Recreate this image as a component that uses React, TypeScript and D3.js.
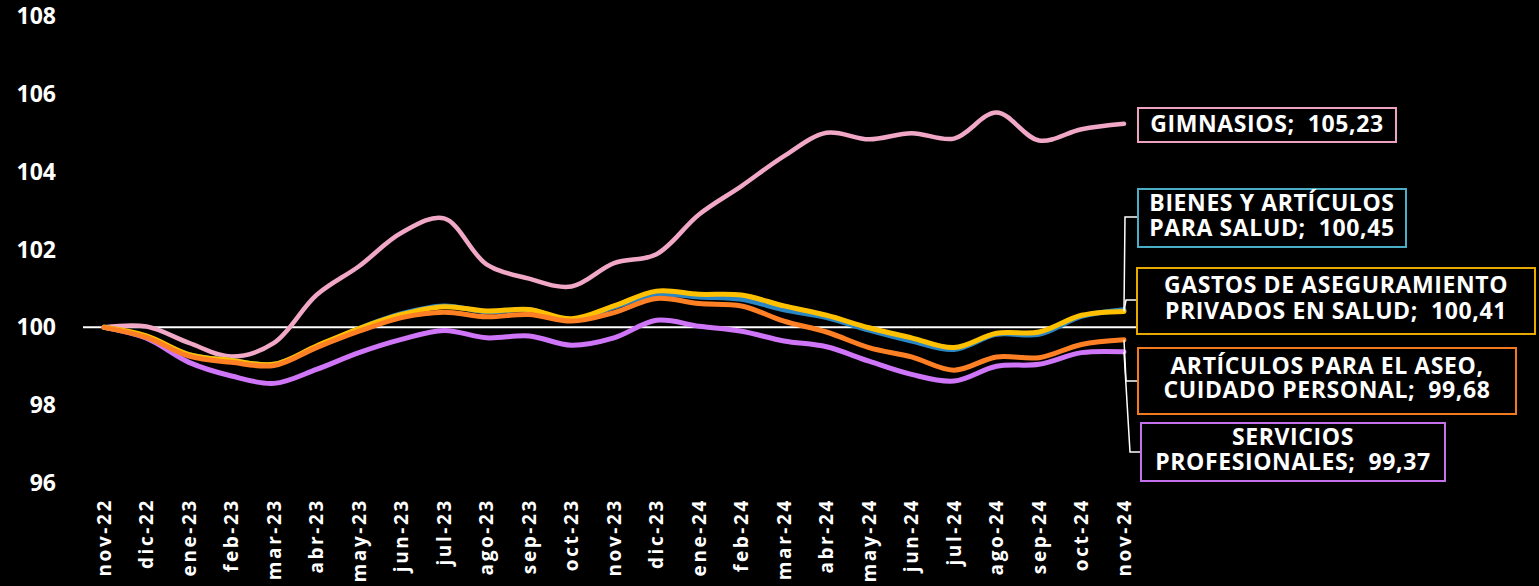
import * as d3 from "d3";

// monthly index values (base nov-22 = 100)
const months = [
  "nov-22", "dic-22", "ene-23", "feb-23", "mar-23", "abr-23", "may-23", "jun-23", "jul-23",
  "ago-23", "sep-23", "oct-23", "nov-23", "dic-23", "ene-24", "feb-24", "mar-24", "abr-24",
  "may-24", "jun-24", "jul-24", "ago-24", "sep-24", "oct-24", "nov-24",
];
const gimnasios = [
  100, 100.02, 99.6, 99.25, 99.6, 100.83, 101.57, 102.43, 102.8, 101.62, 101.25, 101.05,
  101.65, 101.88, 102.9, 103.63, 104.4, 105.0, 104.83, 104.99, 104.85, 105.52, 104.8, 105.09, 105.23,
];
const bienesSalud = [
  100, 99.76, 99.3, 99.15, 99.05, 99.5, 99.97, 100.35, 100.55, 100.4, 100.45, 100.2,
  100.52, 100.85, 100.78, 100.72, 100.45, 100.25, 99.93, 99.65, 99.43, 99.82, 99.82, 100.28, 100.45,
];
const aseguramiento = [
  100, 99.78, 99.3, 99.15, 99.05, 99.52, 99.97, 100.33, 100.53, 100.42, 100.46, 100.22,
  100.55, 100.93, 100.85, 100.83, 100.55, 100.31, 99.99, 99.73, 99.48, 99.85, 99.88, 100.31, 100.41,
];
const aseoPersonal = [
  100, 99.74, 99.26, 99.1, 99.02, 99.48, 99.9, 100.25, 100.39, 100.27, 100.33, 100.16,
  100.38, 100.74, 100.61, 100.55, 100.16, 99.88, 99.48, 99.24, 98.9, 99.24, 99.22, 99.56, 99.68,
];
const serviciosProf = [
  100, 99.72, 99.1, 98.75, 98.56, 98.92, 99.35, 99.69, 99.92, 99.73, 99.78, 99.54,
  99.73, 100.18, 100.03, 99.9, 99.65, 99.5, 99.13, 98.79, 98.62, 99.0, 99.05, 99.35, 99.37,
];
const yTicks = [96, 98, 100, 102, 104, 106, 108];

const W = 1539;
const H = 586;
const FONT = "'Open Sans', sans-serif";

const x = d3.scalePoint<string>().domain(months).range([104, 1124]);
const y = d3.scaleLinear().domain([96, 108]).range([483, 16]);

const line = d3
  .line<number>()
  .x((_, i) => x(months[i]) as number)
  .y((v) => y(v))
  .curve(d3.curveCatmullRom.alpha(0.5));

// draw order matters: later ones sit on top
const series = [
  { key: "gim", values: gimnasios, color: "#F0A8C6", width: 4.5 },
  { key: "serv", values: serviciosProf, color: "#CF75F7", width: 5 },
  { key: "bien", values: bienesSalud, color: "#2B86C4", width: 5 },
  { key: "aseg", values: aseguramiento, color: "#FFC000", width: 5 },
  { key: "aseo", values: aseoPersonal, color: "#FF7F24", width: 5 },
];

// label boxes on the right
const labels = [
  { values: gimnasios, lines: ["GIMNASIOS;  105,23"], border: "#EEA2C2", box: [1138, 108, 258, 34], base: [132], leader: null },
  { values: bienesSalud, lines: ["BIENES Y ARTÍCULOS", "PARA SALUD;  100,45"], border: "#4BACC6", box: [1138, 189, 268, 58], base: [211, 236], leader: [1125, 217] },
  { values: aseguramiento, lines: ["GASTOS DE ASEGURAMIENTO", "PRIVADOS EN SALUD;  100,41"], border: "#E8A900", box: [1137, 268, 398, 66], base: [293, 319], leader: [1126, 300] },
  { values: aseoPersonal, lines: ["ARTÍCULOS PARA EL ASEO,", "CUIDADO PERSONAL;  99,68"], border: "#F47A1E", box: [1138, 348, 378, 66], base: [374, 398], leader: [1126, 381] },
  { values: serviciosProf, lines: ["SERVICIOS", "PROFESIONALES;  99,37"], border: "#C470EA", box: [1141, 423, 304, 58], base: [445, 470], leader: [1130, 452] },
];

const App = () => {
  const last = months[months.length - 1];
  return (
    <svg width={W} height={H} style={{ position: "absolute", left: 0, top: 0, display: "block", background: "#000" }}>
      <rect x={0} y={0} width={W} height={H} fill="#000" />

      {/* y axis labels */}
      {yTicks.map((t) => (
        <text key={t} x={56} y={y(t)} dy="0.35em" textAnchor="end" fill="#fff"
          fontFamily={FONT} fontWeight={700} fontSize={23}>
          {t}
        </text>
      ))}

      {/* x axis labels, rotated */}
      {months.map((m) => (
        <text key={m} transform={`translate(${x(m)},498) rotate(-90)`} textAnchor="end" dy="0.35em"
          fill="#fff" fontFamily={FONT} fontWeight={700} fontSize={19} letterSpacing={2.6}>
          {m}
        </text>
      ))}

      {/* reference line at 100 */}
      <line x1={83} x2={1145} y1={y(100)} y2={y(100)} stroke="#fff" strokeWidth={2} />

      {series.map((s) => (
        <path key={s.key} d={line(s.values) as string} fill="none" stroke={s.color}
          strokeWidth={s.width} strokeLinecap="round" strokeLinejoin="round" />
      ))}

      {labels.map((l, i) => {
        const [bx, by, bw, bh] = l.box;
        const ex = x(last) as number;
        const ey = y(l.values[l.values.length - 1]);
        return (
          <g key={i}>
            {l.leader && (
              <polyline points={`${ex},${ey} ${l.leader[0]},${l.leader[1]} ${bx},${l.leader[1]}`}
                fill="none" stroke="#fff" strokeWidth={1.5} />
            )}
            <rect x={bx} y={by} width={bw} height={bh} fill="#000" stroke={l.border} strokeWidth={2} />
            {l.lines.map((t, j) => (
              <text key={j} x={bx + bw / 2} y={l.base[j]} textAnchor="middle" fill="#fff"
                fontFamily={FONT} fontWeight={700} fontSize={23} letterSpacing={0.6}
                style={{ whiteSpace: "pre" }}>
                {t}
              </text>
            ))}
          </g>
        );
      })}
    </svg>
  );
};

export default App;
